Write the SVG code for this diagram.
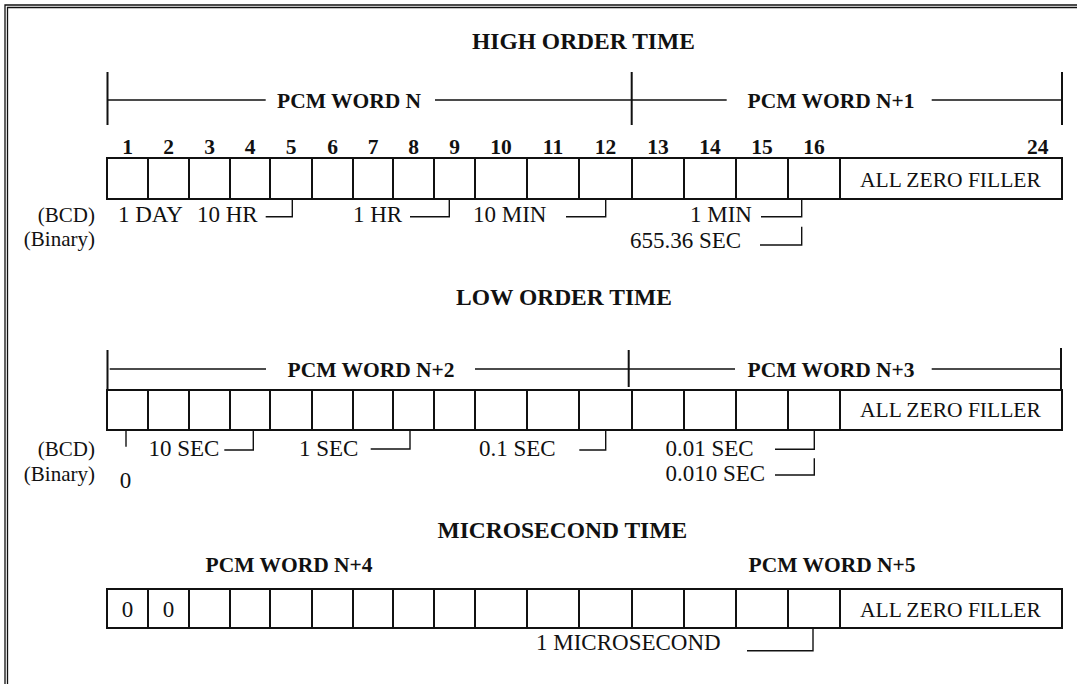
<svg xmlns="http://www.w3.org/2000/svg" width="1077" height="684" viewBox="0 0 1077 684">
<style>
text{font-family:"Liberation Serif","Times New Roman",serif;fill:#111}
.t{font-size:23.5px;font-weight:bold}
.w{font-size:21.5px;font-weight:bold}
.n{font-size:21.5px;font-weight:bold;text-anchor:middle}
.l{font-size:23px}
.s{font-size:21px;text-anchor:end}
.f{font-size:21.5px}
.cell{fill:#fff;stroke:#111;stroke-width:2}
.div{stroke:#111;stroke-width:2;fill:none}
.br{stroke:#111;stroke-width:1.4;fill:none}
.bv{stroke:#111;stroke-width:2;fill:none}
</style>
<defs>
<path id="dividers" d="M148 0v1M189 0v1M230 0v1M270 0v1M312 0v1M353 0v1M393 0v1M434 0v1M475 0v1M527 0v1M579 0v1M632 0v1M684 0v1M736 0v1M788 0v1M840 0v1"/>
</defs>
<g id="frame" fill="none" stroke="#111" stroke-width="1.3">
<path d="M5 684V5H1077"/>
<path d="M7.5 684V7.5H1077"/>
</g>

<g id="high-order-time">
<text class="t" x="472" y="49">HIGH ORDER TIME</text>
<g id="word-n-labels">
<text class="w" x="277" y="108">PCM WORD N</text>
<text class="w" x="747.5" y="108">PCM WORD N+1</text>
</g>
<g id="bit-numbers">
<text class="n" x="127.5" y="154">1</text>
<text class="n" x="168.5" y="154">2</text>
<text class="n" x="209.5" y="154">3</text>
<text class="n" x="250" y="154">4</text>
<text class="n" x="291" y="154">5</text>
<text class="n" x="332.5" y="154">6</text>
<text class="n" x="373" y="154">7</text>
<text class="n" x="413.5" y="154">8</text>
<text class="n" x="454.5" y="154">9</text>
<text class="n" x="501" y="154">10</text>
<text class="n" x="553" y="154">11</text>
<text class="n" x="605.5" y="154">12</text>
<text class="n" x="658" y="154">13</text>
<text class="n" x="710" y="154">14</text>
<text class="n" x="762" y="154">15</text>
<text class="n" x="814" y="154">16</text>
<text class="n" x="1048.5" y="154" style="text-anchor:end">24</text>
</g>
<g id="row-high">
<rect class="cell" x="107" y="158" width="955" height="41"/>
<path class="div" d="M148 158V199M189 158V199M230 158V199M270 158V199M312 158V199M353 158V199M393 158V199M434 158V199M475 158V199M527 158V199M579 158V199M632 158V199M684 158V199M736 158V199M788 158V199M840 158V199"/>
<text class="f" x="860" y="186.5">ALL ZERO FILLER</text>
</g>
<g id="high-labels">
<text class="s" x="95" y="222">(BCD)</text>
<text class="s" x="95" y="246">(Binary)</text>
<text class="l" y="222"><tspan x="118">1 DAY</tspan><tspan x="197">10 HR</tspan></text>
<text class="l" x="353" y="222">1 HR</text>
<text class="l" x="473" y="222">10 MIN</text>
<text class="l" x="690" y="222">1 MIN</text>
<text class="l" x="630" y="248">655.36 SEC</text>
</g>
</g>

<g id="low-order-time">
<text class="t" x="456" y="305">LOW ORDER TIME</text>
<g id="word-n2-labels">
<text class="w" x="287.5" y="377">PCM WORD N+2</text>
<text class="w" x="747.5" y="377">PCM WORD N+3</text>
</g>
<g id="row-low">
<rect class="cell" x="107" y="390" width="955" height="40"/>
<path class="div" d="M148 390V430M189 390V430M230 390V430M270 390V430M312 390V430M353 390V430M393 390V430M434 390V430M475 390V430M527 390V430M579 390V430M632 390V430M684 390V430M736 390V430M788 390V430M840 390V430"/>
<text class="f" x="860" y="417">ALL ZERO FILLER</text>
</g>
<g id="low-labels">
<text class="s" x="95" y="456">(BCD)</text>
<text class="s" x="95" y="481">(Binary)</text>
<text class="l" x="125.5" y="488" style="text-anchor:middle">0</text>
<text class="l" x="148.5" y="455.5">10 SEC</text>
<text class="l" x="299" y="455.5">1 SEC</text>
<text class="l" x="479" y="455.5">0.1 SEC</text>
<text class="l" x="665.5" y="455.5">0.01 SEC</text>
<text class="l" x="665.5" y="481">0.010 SEC</text>
</g>
</g>

<g id="microsecond-time">
<text class="t" x="437.5" y="538">MICROSECOND TIME</text>
<g id="word-n4-labels">
<text class="w" x="205.5" y="572">PCM WORD N+4</text>
<text class="w" x="748.5" y="572">PCM WORD N+5</text>
</g>
<g id="row-micro">
<rect class="cell" x="107" y="589" width="955" height="39"/>
<path class="div" d="M148 589V628M189 589V628M230 589V628M270 589V628M312 589V628M353 589V628M393 589V628M434 589V628M475 589V628M527 589V628M579 589V628M632 589V628M684 589V628M736 589V628M788 589V628M840 589V628"/>
<text class="l" x="127.5" y="616.5" style="text-anchor:middle">0</text>
<text class="l" x="168.5" y="616.5" style="text-anchor:middle">0</text>
<text class="f" x="860" y="616.5">ALL ZERO FILLER</text>
</g>
<text class="l" x="536" y="650">1 MICROSECOND</text>
</g>

<g id="connectors">
<path class="bv" d="M107.5 72V125M631.7 72V125M1062 72V125"/>
<path class="br" d="M107 100H265.7M435 100H726.7M931.7 100H1062"/>
<path class="bv" d="M107.5 350V390M628.7 350V387M1061 348V390"/>
<path class="br" d="M109.7 369H266M475 369H735M931.7 369H1061"/>
<path class="br" d="M265.7 216.7H292.3V199M410 216.7H449.3V199M566 216.7H605.7V199M761 216.7H801.7V199M760 245H801.7V226.7"/>
<path class="br" d="M126 430V446.7M224.3 450H253.3V430M370.7 449H410V430M579.3 450H605.7V430M775 449.3H814.3V430M775 475H814.3V458.3"/>
<path class="br" d="M747 650.7H813V628"/>
</g>
</svg>
